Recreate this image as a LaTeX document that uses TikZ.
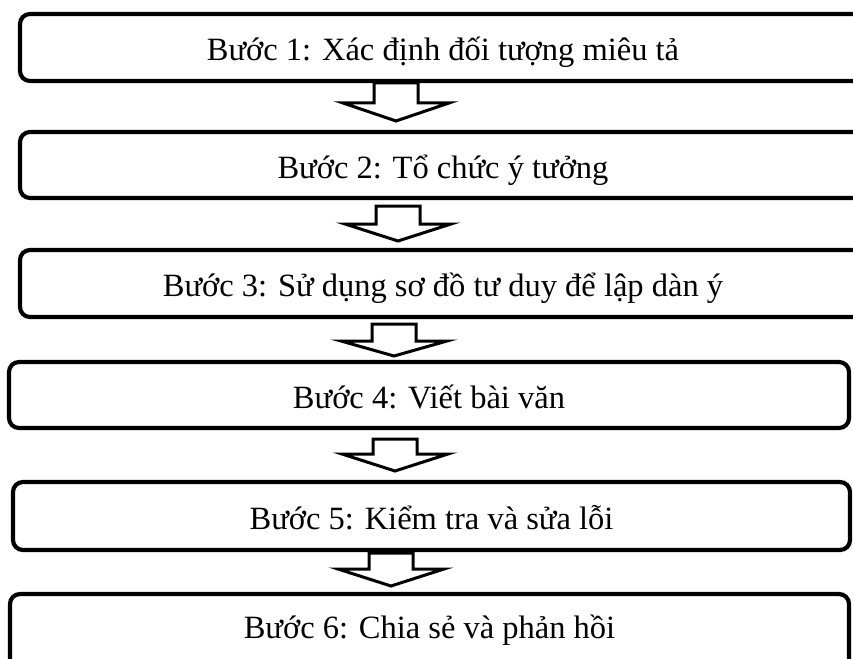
\documentclass[tikz,border=0pt]{standalone}
\usepackage{fontspec}
\setmainfont{Liberation Serif}

\tikzset{
  stepbox/.style={draw=black, line width=4.2pt, rounded corners=10pt, fill=white,
    inner sep=0pt, outer sep=0pt, font=\fontsize{32.5}{38}\selectfont,
    text height=30pt, text depth=3.8pt},
  blockarrow/.style={draw=black, fill=white, line width=3pt, line join=miter}
}

\begin{document}
\begin{tikzpicture}[x=1pt, y=-1pt]
	  \useasboundingbox (0,0) rectangle (853,658);

	  \node[stepbox, minimum width=846pt, minimum height=67pt] (s1) at (443,47.5) {Bước 1: Xác định đối tượng miêu tả};
	  \node[stepbox, minimum width=846pt, minimum height=66pt] (s2) at (443,165) {Bước 2: Tổ chức ý tưởng};
	  \node[stepbox, minimum width=846pt, minimum height=67pt] (s3) at (443,283.5) {Bước 3: Sử dụng sơ đồ tư duy để lập dàn ý};
	  \node[stepbox, minimum width=840pt, minimum height=66pt] (s4) at (429,395) {Bước 4: Viết bài văn};
	  \node[stepbox, minimum width=837pt, minimum height=68pt] (s5) at (431.5,516) {Bước 5: Kiểm tra và sửa lỗi};
	  \node[stepbox, minimum width=839pt, minimum height=76pt, text depth=18pt] (s6) at (429.5,632) {Bước 6: Chia sẻ và phản hồi};

		% block arrows between the steps
		\foreach \cx/\ytop/\yhead/\ytip in {396/83/103/121, 398/206/224/241, 394/324/341/356, 395/439/454/471, 391/553/569/586} {
	    \draw[blockarrow] (\cx-22,\ytop) -- (\cx+22,\ytop) -- (\cx+22,\yhead) -- (\cx+53,\yhead)
	      -- (\cx,\ytip) -- (\cx-53,\yhead) -- (\cx-22,\yhead) -- cycle;
	  }
	\end{tikzpicture}
\end{document}
